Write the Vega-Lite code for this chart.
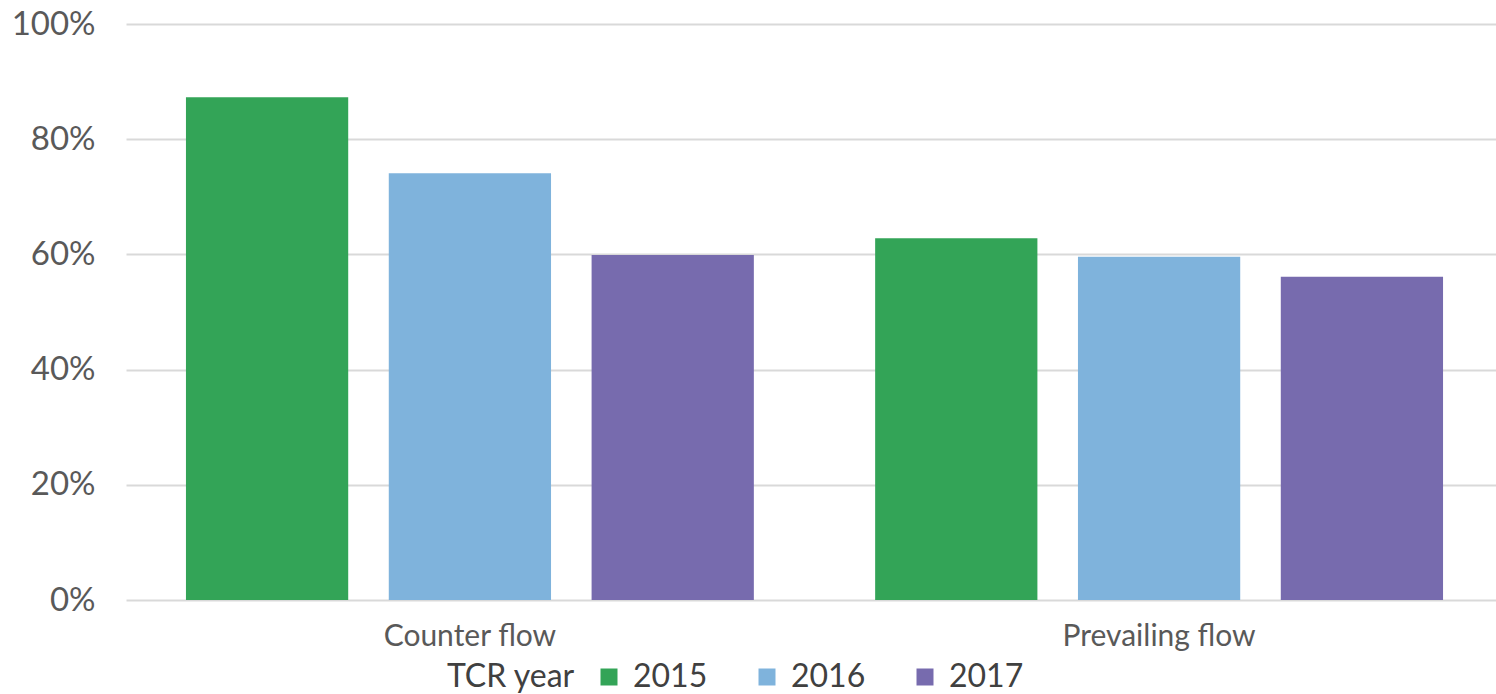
{
  "$schema": "https://vega.github.io/schema/vega-lite/v6.json",
  "width": 1377,
  "height": 576,
  "autosize": {"type": "none"},
  "padding": {"left": 126, "top": 24, "right": 0, "bottom": 94},
  "background": "white",
  "data": {
    "values": [
      {"flow": "Counter flow", "year": "2015", "share": 87.3},
      {"flow": "Counter flow", "year": "2016", "share": 74.1},
      {"flow": "Counter flow", "year": "2017", "share": 59.9},
      {"flow": "Prevailing flow", "year": "2015", "share": 62.8},
      {"flow": "Prevailing flow", "year": "2016", "share": 59.6},
      {"flow": "Prevailing flow", "year": "2017", "share": 56.1}
    ]
  },
  "mark": {"type": "bar"},
  "encoding": {
    "x": {
      "field": "flow", "type": "nominal", "title": null,
      "scale": {"paddingInner": 0.176, "paddingOuter": 0.087},
      "axis": {"labelAngle": 0, "labelFontSize": 30, "labelFontWeight": "normal", "labelLimit": 500, "labelColor": "#595959", "labelFont": "Lato", "labelPadding": 21, "domain": false, "ticks": false}
    },
    "xOffset": {"field": "year", "type": "nominal", "scale": {"paddingInner": 0.2, "paddingOuter": 0}},
    "y": {
      "field": "share", "type": "quantitative", "title": null,
      "scale": {"domain": [0, 100], "nice": false},
      "axis": {"values": [0, 20, 40, 60, 80, 100], "labelExpr": "datum.value + '%'", "labelFontSize": 33, "labelFontWeight": "normal", "labelColor": "#595959", "labelFont": "Lato", "labelPadding": 31, "domain": false, "ticks": false, "gridColor": "#d9d9d9", "gridWidth": 2}
    },
    "color": {
      "field": "year", "type": "nominal",
      "scale": {"domain": ["2015", "2016", "2017"], "range": ["#33a457", "#7fb3dc", "#776bae"]},
      "legend": {
        "title": "TCR year", "orient": "none", "legendX": 321, "legendY": 637,
        "direction": "horizontal", "titleOrient": "left", "titleFontSize": 32, "titleFontWeight": "normal", "titleColor": "#404040", "titleFont": "Lato",
        "labelFontSize": 32, "labelFontWeight": "normal", "labelColor": "#404040", "labelFont": "Lato", "symbolType": "square", "symbolSize": 289, "symbolStrokeWidth": 0, "labelOffset": 8, "columnPadding": 43, "titlePadding": 18
      }
    }
  },
  "config": {"view": {"stroke": null}}
}
